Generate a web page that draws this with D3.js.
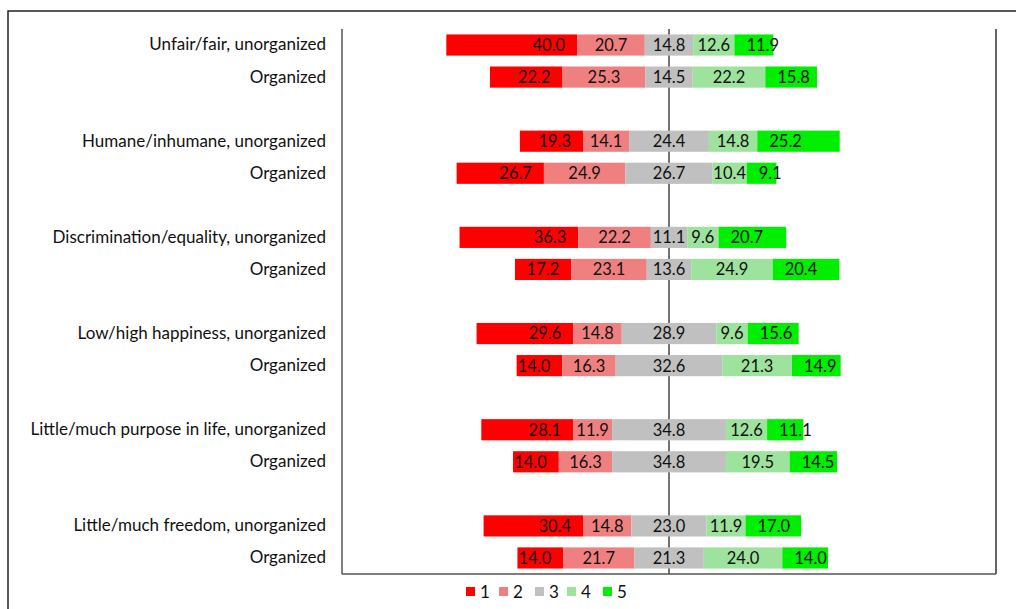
<!DOCTYPE html>
<html>
<head>
<meta charset="utf-8">
<script src="https://cdn.jsdelivr.net/npm/d3@7"></script>
<style>
  body { margin: 0; background: #fff; }
  text { font-family: Lato, "Open Sans", sans-serif; }
</style>
</head>
<body>
<script>
// Chart data
var rowLabels = [
  "Unfair/fair, unorganized", "Organized",
  "Humane/inhumane, unorganized", "Organized",
  "Discrimination/equality, unorganized", "Organized",
  "Low/high happiness, unorganized", "Organized",
  "Little/much purpose in life, unorganized", "Organized",
  "Little/much freedom, unorganized", "Organized"
];
var level1 = [40.0, 22.2, 19.3, 26.7, 36.3, 17.2, 29.6, 14.0, 28.1, 14.0, 30.4, 14.0];
var level2 = [20.7, 25.3, 14.1, 24.9, 22.2, 23.1, 14.8, 16.3, 11.9, 16.3, 14.8, 21.7];
var level3 = [14.8, 14.5, 24.4, 26.7, 11.1, 13.6, 28.9, 32.6, 34.8, 34.8, 23.0, 21.3];
var level4 = [12.6, 22.2, 14.8, 10.4, 9.6, 24.9, 9.6, 21.3, 12.6, 19.5, 11.9, 24.0];
var level5 = [11.9, 15.8, 25.2, 9.1, 20.7, 20.4, 15.6, 14.9, 11.1, 14.5, 17.0, 14.0];
var levelNames = ["1", "2", "3", "4", "5"];
var levelColors = ["#ff0000", "#f08080", "#c0c0c0", "#9de29d", "#00ee00"];

var svgWidth = 1016;
var svgHeight = 609;
var plot = { left: 342, right: 996, top: 29, bottom: 574 };

var svg = d3.select("body")
            .append("svg")
            .attr("width", svgWidth)
            .attr("height", svgHeight);

// outer frame (top + left edges only, image is cropped)
svg.append("path")
   .attr("d", `M8,${svgHeight} V11 H${svgWidth}`)
   .attr("fill", "none")
   .attr("stroke", "#222")
   .attr("stroke-width", 1.5);

// each group of two rows is followed by an empty slot
var slots = rowLabels.map((d, i) => i + Math.floor(i / 2));

var x = d3.scaleLinear().domain([-100, 100]).range([plot.left, plot.right]);
var y = d3.scaleBand()
          .domain(d3.range(17))
          .range([plot.top, plot.bottom])
          .paddingInner(0.34)
          .paddingOuter(0.17);

// zero line sits behind the bars
svg.append("line")
   .attr("x1", x(0)).attr("x2", x(0))
   .attr("y1", plot.top).attr("y2", plot.bottom)
   .attr("stroke", "#444").attr("stroke-width", 1.5);

// Build stacked segments, centered on the neutral level
var levels = [level1, level2, level3, level4, level5];
var rows = rowLabels.map(function(label, i) {
  var vals = levels.map(l => l[i]);
  var start = -(vals[0] + vals[1] + vals[2] / 2);
  var segs = vals.map(function(v, k) {
    var s = { row: i, level: k, value: v, x0: start, x1: start + v };
    start += v;
    return s;
  });
  return { label: label, slot: slots[i], segs: segs };
});

var barGroup = svg.append("g");

rows.forEach(function(r) {
  var g = barGroup.append("g");
  g.selectAll("rect")
   .data(r.segs)
   .enter()
   .append("rect")
   .attr("x", d => x(d.x0))
   .attr("y", y(r.slot))
   .attr("width", d => x(d.x1) - x(d.x0))
   .attr("height", y.bandwidth())
   .attr("fill", d => levelColors[d.level]);

  g.selectAll("text")
   .data(r.segs)
   .enter()
   .append("text")
   .attr("x", function(d) {
     if (d.level === 0) return x(d.x1) - 12;
     if (d.level === 4) return x(d.x0) + 12;
     return (x(d.x0) + x(d.x1)) / 2;
   })
   .attr("y", y(r.slot) + y.bandwidth() / 2)
   .attr("dy", "0.36em")
   .attr("text-anchor", d => d.level === 0 ? "end" : d.level === 4 ? "start" : "middle")
   .attr("font-size", "16.5px")
   .attr("fill", "#111")
   .text(d => d3.format(".1f")(d.value));
});

// axes
var leftAxis = d3.axisLeft(y).tickSize(0).tickFormat(d => {
  var i = slots.indexOf(d);
  return i < 0 ? "" : rowLabels[i];
});
var axisG = svg.append("g")
   .attr("transform", `translate(${plot.left},0)`)
   .call(leftAxis);
axisG.select(".domain").remove();
axisG.selectAll("text")
     .attr("x", -16)
     .attr("font-size", "17px")
     .attr("font-family", "Lato, 'Open Sans', sans-serif")
     .attr("fill", "#111");

svg.append("line")
   .attr("x1", plot.left).attr("x2", plot.left)
   .attr("y1", plot.top).attr("y2", plot.bottom)
   .attr("stroke", "#555").attr("stroke-width", 1.5);
svg.append("line")
   .attr("x1", plot.right).attr("x2", plot.right)
   .attr("y1", plot.top).attr("y2", plot.bottom)
   .attr("stroke", "#333").attr("stroke-width", 1.5);
svg.append("line")
   .attr("x1", plot.left).attr("x2", plot.right)
   .attr("y1", plot.bottom).attr("y2", plot.bottom)
   .attr("stroke", "#555").attr("stroke-width", 1.5);

// legend
var legendX = [466, 499, 535, 567, 603];
var legend = svg.append("g")
   .selectAll("g")
   .data(levelNames)
   .enter()
   .append("g")
   .attr("transform", (d, i) => `translate(${legendX[i]}, 587)`);
legend.append("rect")
      .attr("width", 9).attr("height", 9)
      .attr("fill", (d, i) => levelColors[i]);
legend.append("text")
      .attr("x", 14).attr("y", 4.5).attr("dy", "0.36em")
      .attr("font-size", "17px")
      .attr("fill", "#111")
      .text(d => d);
</script>
</body>
</html>
